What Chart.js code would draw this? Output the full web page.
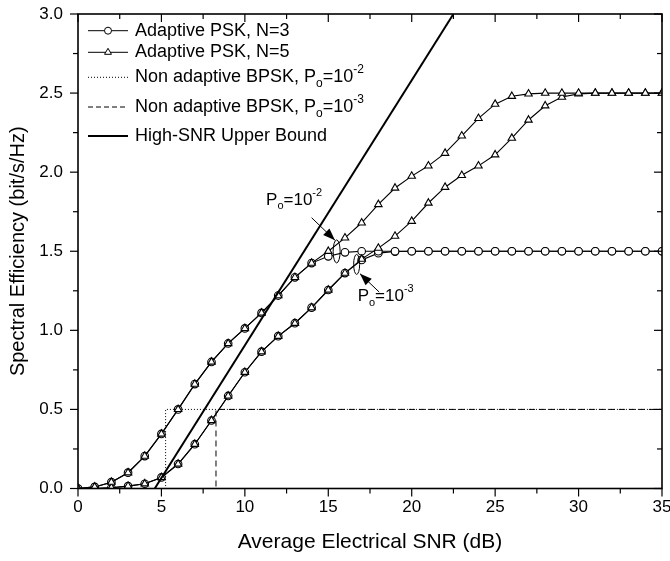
<!DOCTYPE html>
<html><head><meta charset="utf-8">
<script src="https://cdn.jsdelivr.net/npm/chart.js@4.4.0/dist/chart.umd.min.js"></script>
<style>html,body{margin:0;padding:0;background:#fff;overflow:hidden}canvas{display:block}</style>
</head><body>
<canvas id="c" width="670" height="561"></canvas>
<script>
// ---- data ----
const snr = [0,1,2,3,4,5,6,7,8,9,10,11,12,13,14,15,16,17,18,19,20,21,22,23,24,25,26,27,28,29,30,31,32,33,34,35];
const psk3_p2 = [0,0.01,0.04,0.10,0.205,0.345,0.50,0.66,0.80,0.917,1.012,1.11,1.22,1.335,1.425,1.468,1.493,1.5,1.5,1.5,1.5,1.5,1.5,1.5,1.5,1.5,1.5,1.5,1.5,1.5,1.5,1.5,1.5,1.5,1.5,1.5];
const psk5_p2 = [0,0.01,0.04,0.10,0.205,0.345,0.50,0.66,0.80,0.917,1.012,1.11,1.22,1.335,1.425,1.50,1.585,1.68,1.796,1.90,1.975,2.04,2.12,2.23,2.34,2.43,2.48,2.495,2.5,2.5,2.5,2.5,2.5,2.5,2.5,2.5];
const psk3_p3 = [0,0,0.005,0.015,0.03,0.07,0.155,0.28,0.43,0.585,0.735,0.865,0.963,1.045,1.144,1.255,1.362,1.445,1.488,1.498,1.5,1.5,1.5,1.5,1.5,1.5,1.5,1.5,1.5,1.5,1.5,1.5,1.5,1.5,1.5,1.5];
const psk5_p3 = [0,0,0.005,0.015,0.03,0.07,0.155,0.28,0.43,0.585,0.735,0.865,0.963,1.045,1.144,1.255,1.362,1.45,1.52,1.596,1.69,1.805,1.905,1.98,2.04,2.11,2.215,2.33,2.42,2.475,2.495,2.5,2.5,2.5,2.5,2.5];
const boundX = [4.6, 22.5];
const boundY = [0, 3.0];
const bpsk2X = [0, 5.25, 5.25, 35];
const bpsk2Y = [0, 0, 0.5, 0.5];
const bpsk3X = [0, 8.27, 8.27, 35];
const bpsk3Y = [0, 0, 0.5, 0.5];
const xTicks = [0,5,10,15,20,25,30,35];
const xMinor = [2.5,7.5,12.5,17.5,22.5,27.5,32.5];
const yTicks = [0,0.5,1.0,1.5,2.0,2.5,3.0];
const yMinor = [0.25,0.75,1.25,1.75,2.25,2.75];

const pts = (xs, ys) => xs.map((v,i)=>({x:v, y:ys[i]}));
const FONT = "'Liberation Sans', Arial, sans-serif";
Chart.defaults.font.family = FONT;
Chart.defaults.color = '#000';

const base = {borderColor:'#000', borderWidth:1.1, pointBackgroundColor:'#fff', pointBorderColor:'#000', pointBorderWidth:1.1, tension:0, clip:0, fill:false};

function drawTri(ctx, x, y, r){
  ctx.beginPath();
  let rad = 0;
  ctx.moveTo(x + Math.sin(rad)*r, y - Math.cos(rad)*r);
  rad += 2*Math.PI/3; ctx.lineTo(x + Math.sin(rad)*r, y - Math.cos(rad)*r);
  rad += 2*Math.PI/3; ctx.lineTo(x + Math.sin(rad)*r, y - Math.cos(rad)*r);
  ctx.closePath(); ctx.fillStyle='#fff'; ctx.fill(); ctx.stroke();
}
function drawRich(ctx, parts, x, y, size){
  let cx = x;
  ctx.textBaseline = 'middle'; ctx.textAlign = 'left'; ctx.fillStyle = '#000';
  for (const p of parts){
    let fs = size, dy = 0;
    if (p.s === 'sub'){ fs = Math.round(size*0.65); dy = size*0.38; }
    if (p.s === 'sup'){ fs = Math.round(size*0.65); dy = -size*0.42; }
    ctx.font = fs + 'px ' + FONT;
    ctx.fillText(p.t, cx, y + dy);
    cx += ctx.measureText(p.t).width;
  }
}
function arrow(ctx, x1, y1, x2, y2){
  ctx.beginPath(); ctx.moveTo(x1,y1); ctx.lineTo(x2,y2); ctx.stroke();
  const a = Math.atan2(y2-y1, x2-x1), L = 12, W = 4.5;
  ctx.beginPath();
  ctx.moveTo(x2, y2);
  ctx.lineTo(x2 - L*Math.cos(a) + W*Math.sin(a), y2 - L*Math.sin(a) - W*Math.cos(a));
  ctx.lineTo(x2 - L*Math.cos(a) - W*Math.sin(a), y2 - L*Math.sin(a) + W*Math.cos(a));
  ctx.closePath(); ctx.fillStyle='#000'; ctx.fill();
}

const frame = {
  id:'frame',
  afterDatasetsDraw(chart){
    const {ctx, chartArea:a, scales:{x, y}} = chart;
    ctx.save();
    ctx.strokeStyle = '#000';
    // annotations (data coordinates -> pixels through the scales)
    ctx.lineWidth = 1;
    ctx.beginPath(); ctx.ellipse(x.getPixelForValue(15.5), y.getPixelForValue(1.499), 3.5, 11.5, 0, 0, 2*Math.PI); ctx.stroke();
    ctx.beginPath(); ctx.ellipse(x.getPixelForValue(16.7), y.getPixelForValue(1.417), 3, 10, 0, 0, 2*Math.PI); ctx.stroke();
    arrow(ctx, x.getPixelForValue(14.0), y.getPixelForValue(1.712), x.getPixelForValue(15.4), y.getPixelForValue(1.57));
    arrow(ctx, x.getPixelForValue(18.05), y.getPixelForValue(1.242), x.getPixelForValue(16.9), y.getPixelForValue(1.358));
    drawRich(ctx, [{t:'P'},{t:'o',s:'sub'},{t:'=10'},{t:'-2',s:'sup'}], x.getPixelForValue(11.27), y.getPixelForValue(1.824), 17);
    drawRich(ctx, [{t:'P'},{t:'o',s:'sub'},{t:'=10'},{t:'-3',s:'sup'}], x.getPixelForValue(16.76), y.getPixelForValue(1.216), 17);

    // legend
    const lx1 = a.left + 10, lx2 = a.left + 50, tx = a.left + 57, mx = (lx1+lx2)/2;
    const rows = [30.7, 52.3, 77.3, 107, 136];
    ctx.lineWidth = 1; ctx.setLineDash([]);
    ctx.beginPath(); ctx.moveTo(lx1, rows[0]); ctx.lineTo(lx2, rows[0]); ctx.stroke();
    ctx.beginPath(); ctx.arc(mx, rows[0], 3.5, 0, 2*Math.PI); ctx.fillStyle='#fff'; ctx.fill(); ctx.stroke();
    ctx.beginPath(); ctx.moveTo(lx1, rows[1]); ctx.lineTo(lx2, rows[1]); ctx.stroke();
    drawTri(ctx, mx, rows[1], 4);
    ctx.setLineDash([1,2]);
    ctx.beginPath(); ctx.moveTo(lx1, rows[2]); ctx.lineTo(lx2, rows[2]); ctx.stroke();
    ctx.setLineDash([5,3]);
    ctx.beginPath(); ctx.moveTo(lx1, rows[3]); ctx.lineTo(lx2, rows[3]); ctx.stroke();
    ctx.setLineDash([]); ctx.lineWidth = 2;
    ctx.beginPath(); ctx.moveTo(lx1, rows[4]); ctx.lineTo(lx2, rows[4]); ctx.stroke();
    drawRich(ctx, [{t:'Adaptive PSK, N=3'}], tx, rows[0], 18);
    drawRich(ctx, [{t:'Adaptive PSK, N=5'}], tx, rows[1], 18);
    drawRich(ctx, [{t:'Non adaptive BPSK, P'},{t:'o',s:'sub'},{t:'=10'},{t:'-2',s:'sup'}], tx, rows[2], 18);
    drawRich(ctx, [{t:'Non adaptive BPSK, P'},{t:'o',s:'sub'},{t:'=10'},{t:'-3',s:'sup'}], tx, rows[3], 18);
    drawRich(ctx, [{t:'High-SNR Upper Bound'}], tx, rows[4], 18);

    // frame and ticks
    ctx.lineWidth = 1.6;
    ctx.strokeRect(a.left, a.top, a.right-a.left, a.bottom-a.top);
    ctx.lineWidth = 1.2;
    const t = (x1,y1,x2,y2)=>{ctx.beginPath();ctx.moveTo(x1,y1);ctx.lineTo(x2,y2);ctx.stroke();};
    for (const v of xTicks){ const p = x.getPixelForValue(v); t(p,a.bottom,p,a.bottom+8); t(p,a.top,p,a.top+8); }
    for (const v of xMinor){ const p = x.getPixelForValue(v); t(p,a.bottom,p,a.bottom+5); t(p,a.top,p,a.top+5); }
    for (const v of yTicks){ const p = y.getPixelForValue(v); t(a.left-8,p,a.left,p); t(a.right-8,p,a.right,p); }
    for (const v of yMinor){ const p = y.getPixelForValue(v); t(a.left-5,p,a.left,p); t(a.right-5,p,a.right,p); }
    ctx.restore();
  }
};

new Chart(document.getElementById('c'), {
  type:'line',
  data:{ datasets:[
    {...base, label:'High-SNR Upper Bound', data:pts(boundX,boundY), borderWidth:2, pointRadius:0},
    {...base, label:'Adaptive PSK, N=5 (Po=1e-2)', data:pts(snr,psk5_p2), pointStyle:'triangle', pointRadius:4.3},
    {...base, label:'Adaptive PSK, N=5 (Po=1e-3)', data:pts(snr,psk5_p3), pointStyle:'triangle', pointRadius:4.3},
    {...base, label:'Adaptive PSK, N=3 (Po=1e-2)', data:pts(snr,psk3_p2), pointStyle:'circle', pointRadius:3.8},
    {...base, label:'Adaptive PSK, N=3 (Po=1e-3)', data:pts(snr,psk3_p3), pointStyle:'circle', pointRadius:3.8},
    {...base, label:'Non adaptive BPSK, Po=1e-2', data:pts(bpsk2X,bpsk2Y), borderWidth:1, borderDash:[1,2], pointRadius:0},
    {...base, label:'Non adaptive BPSK, Po=1e-3', data:pts(bpsk3X,bpsk3Y), borderWidth:1, borderDash:[6,4], pointRadius:0}
  ]},
  options:{
    responsive:false, animation:false,
    layout:{padding:{top:14, right:8, left:0, bottom:0}},
    plugins:{legend:{display:false}, tooltip:{enabled:false}},
    scales:{
      x:{type:'linear', min:0, max:35,
        afterBuildTicks:s=>{ s.ticks = xTicks.map(v=>({value:v})); },
        afterFit:s=>{ s.height = 72.5; s.paddingLeft = 0; s.paddingRight = 0; },
        grid:{display:false, drawTicks:false}, border:{display:false},
        ticks:{font:{size:17}, padding:9, maxRotation:0, autoSkip:false, color:'#000'},
        title:{display:true, text:'Average Electrical SNR (dB)', font:{size:21}, padding:{top:0,bottom:6}, color:'#000'}
      },
      y:{type:'linear', min:0, max:3,
        afterBuildTicks:s=>{ s.ticks = yTicks.map(v=>({value:v})); },
        afterFit:s=>{ s.width = 78; s.paddingTop = 0; s.paddingBottom = 0; },
        grid:{display:false, drawTicks:false}, border:{display:false},
        ticks:{font:{size:17}, padding:15, color:'#000', callback:v=>Number(v).toFixed(1)},
        title:{display:true, text:'Spectral Efficiency (bit/s/Hz)', font:{size:20}, padding:{top:6,bottom:0}, color:'#000'}
      }
    }
  },
  plugins:[frame]
});
</script>
</body></html>
